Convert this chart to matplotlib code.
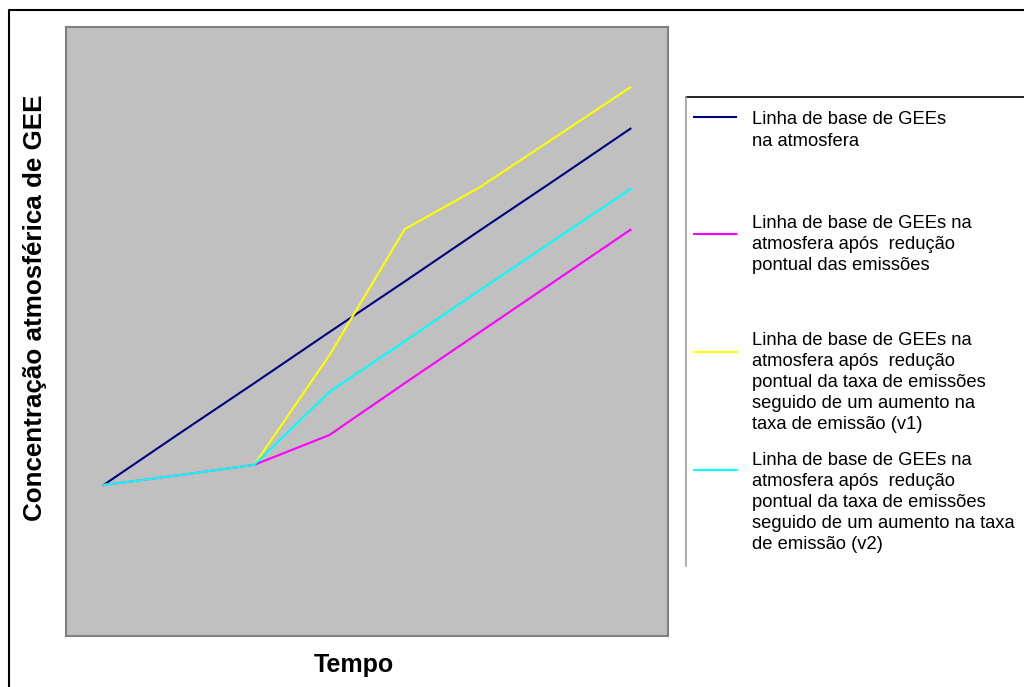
import matplotlib
matplotlib.use("Agg")
import matplotlib.pyplot as plt
from matplotlib.lines import Line2D

plt.rcParams['font.family'] = ['Liberation Sans', 'DejaVu Sans']

# Data (arbitrary units)
tempo = list(range(8))
baseline = [2.48, 3.32, 4.15, 4.99, 5.82, 6.66, 7.49, 8.33]
reducao = [2.48, 2.64, 2.81, 3.30, 4.15, 4.99, 5.83, 6.67]
aumento_v1 = [2.48, 2.64, 2.81, 4.61, 6.68, 7.37, 8.19, 9.01]
aumento_v2 = [2.48, 2.64, 2.81, 4.01, 4.84, 5.68, 6.51, 7.34]

labels = [
    "Linha de base de GEEs\nna atmosfera",
    "Linha de base de GEEs na\natmosfera após  redução\npontual das emissões",
    "Linha de base de GEEs na\natmosfera após  redução\npontual da taxa de emissões\nseguido de um aumento na\ntaxa de emissão (v1)",
    "Linha de base de GEEs na\natmosfera após  redução\npontual da taxa de emissões\nseguido de um aumento na taxa\nde emissão (v2)",
]
colors = ["#000080", "#FF00FF", "#FFFF00", "#00FFFF"]
series = [baseline, reducao, aumento_v1, aumento_v2]

W, H = 1024, 687
fig = plt.figure(figsize=(W / 100, H / 100), dpi=100)
ax = fig.add_axes([66 / W, 1 - 636 / H, (668 - 66) / W, (636 - 27) / H])
ax.set_facecolor("#C0C0C0")
for s in ax.spines.values():
    s.set_color("#808080")
    s.set_linewidth(1.5)

order = [0, 2, 1, 3]
for i in order:
    ax.plot(tempo, series[i], color=colors[i], lw=1.5, solid_joinstyle="miter")

ax.set_xlim(-0.5, 7.5)
ax.set_ylim(0, 10)
ax.set_xticks([])
ax.set_yticks([])

fig.text(354 / W, 1 - 665 / H, "Tempo", fontsize=18, fontweight="bold",
         ha="center", va="center")
fig.text(35 / W, 1 - 308 / H, "Concentração atmosférica de GEE", fontsize=18.7,
         fontweight="bold", rotation=90, ha="center", va="center")

# figure border (top and left)
fig.add_artist(Line2D([9 / W, 9 / W, 1.0], [0.0, 1 - 10 / H, 1 - 10 / H],
                      color="black", lw=1.5, transform=fig.transFigure))

# legend box (top and left edges)
fig.add_artist(Line2D([1.0, 686 / W], [1 - 97 / H, 1 - 97 / H],
                      color="black", lw=1.2, transform=fig.transFigure))
fig.add_artist(Line2D([686 / W, 686 / W], [1 - 97 / H, 1 - 566 / H],
                      color="#A0A0A0", lw=1.2, transform=fig.transFigure))

line_step = 21.5
handle_y = [117, 234, 352, 470]
first_base = [124, 227, 343, 463]
for c, lab, hy, fb in zip(colors, labels, handle_y, first_base):
    fig.add_artist(Line2D([694 / W, 736 / W], [1 - hy / H, 1 - hy / H],
                          color=c, lw=1.5, transform=fig.transFigure))
    n = lab.count("\n")
    last_base = fb + n * line_step
    fig.text(752 / W, 1 - last_base / H, lab, fontsize=13.2, ha="left",
             va="baseline", linespacing=1.31)

fig.savefig("out.png", dpi=100)
